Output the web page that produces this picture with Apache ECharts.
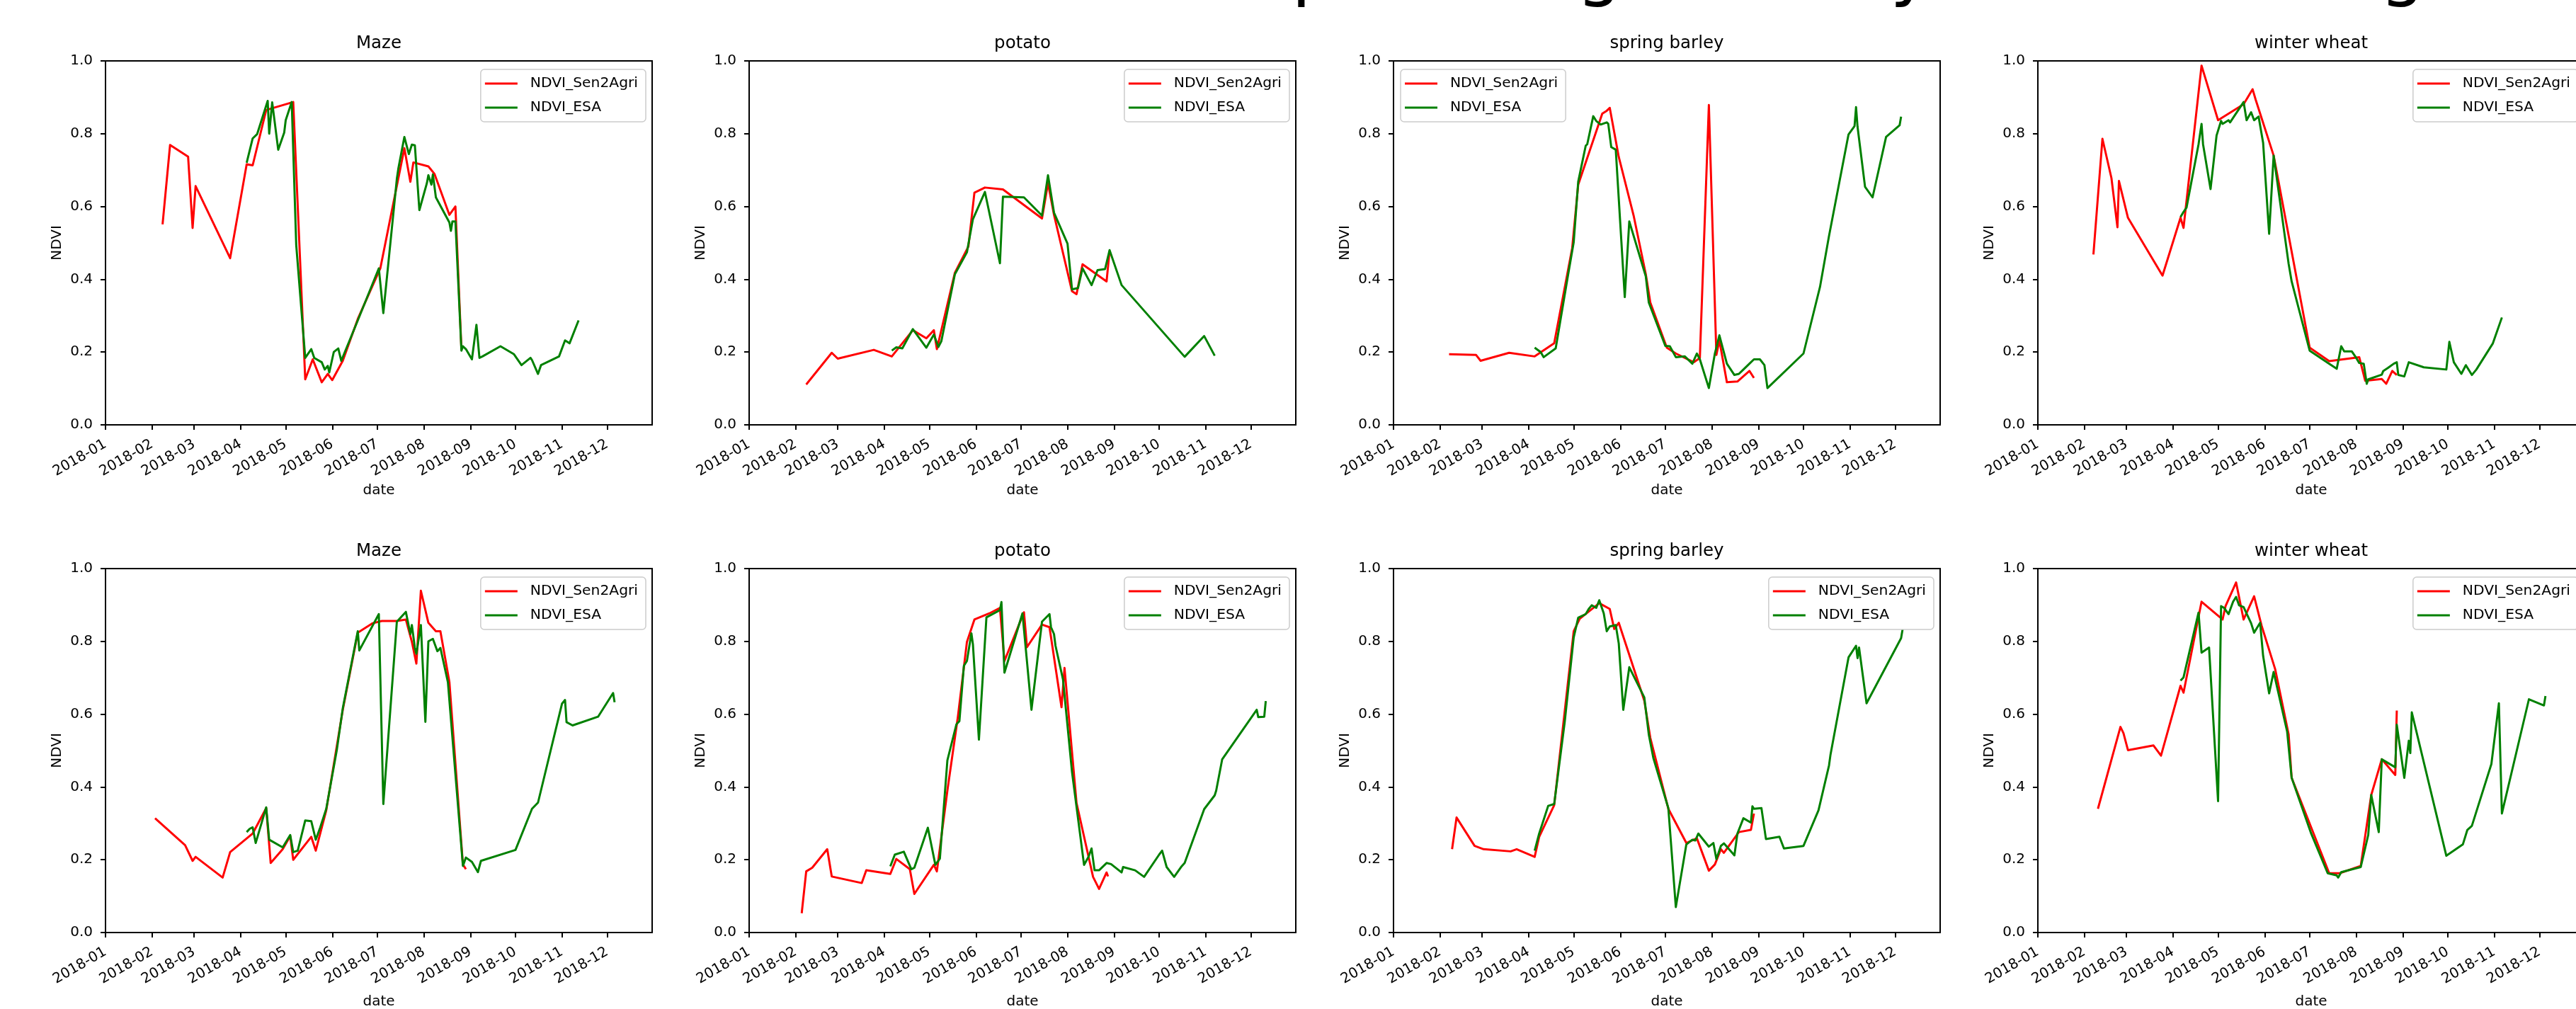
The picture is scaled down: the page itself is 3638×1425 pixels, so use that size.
<!DOCTYPE html>
<html><head><meta charset="utf-8">
<script src="https://cdn.jsdelivr.net/npm/echarts@6/dist/echarts.min.js"></script>
<style>html,body{margin:0;padding:0;background:#fff}#c{width:3638px;height:1425px}</style>
</head><body><div id="c"></div>
<script>
// ---------------- data ----------------
const cropTitles = ['Maze', 'potato', 'spring barley', 'winter wheat', 'Maze', 'potato', 'spring barley', 'winter wheat'];
const seriesNames = ['NDVI_Sen2Agri', 'NDVI_ESA'];
const suptitleText = 'NDVI comparison growth by class and region';

const maizeA_sen = [['2018-02-08',0.551],['2018-02-13',0.769],['2018-02-25',0.737],['2018-02-28',0.541],['2018-03-02',0.656],['2018-03-25',0.458],['2018-04-05',0.716],['2018-04-09',0.713],['2018-04-18',0.865],['2018-05-06',0.887],['2018-05-14',0.125],['2018-05-19',0.180],['2018-05-25',0.117],['2018-05-29',0.140],['2018-06-01',0.123],['2018-06-08',0.176],['2018-06-18',0.291],['2018-07-03',0.430],['2018-07-19',0.760],['2018-07-23',0.668],['2018-07-25',0.721],['2018-08-04',0.710],['2018-08-08',0.690],['2018-08-18',0.577],['2018-08-22',0.600],['2018-08-26',0.208]];
const maizeA_esa = [['2018-04-05',0.720],['2018-04-09',0.787],['2018-04-12',0.799],['2018-04-19',0.890],['2018-04-20',0.800],['2018-04-22',0.886],['2018-04-26',0.756],['2018-04-30',0.803],['2018-05-01',0.837],['2018-05-05',0.887],['2018-05-08',0.494],['2018-05-14',0.184],['2018-05-18',0.208],['2018-05-20',0.184],['2018-05-25',0.172],['2018-05-27',0.152],['2018-05-29',0.162],['2018-05-30',0.144],['2018-06-02',0.200],['2018-06-05',0.210],['2018-06-07',0.176],['2018-06-18',0.287],['2018-07-02',0.430],['2018-07-05',0.307],['2018-07-14',0.676],['2018-07-15',0.704],['2018-07-19',0.791],['2018-07-22',0.744],['2018-07-24',0.770],['2018-07-26',0.768],['2018-07-29',0.590],['2018-08-03',0.664],['2018-08-04',0.686],['2018-08-06',0.660],['2018-08-07',0.688],['2018-08-09',0.625],['2018-08-18',0.556],['2018-08-19',0.533],['2018-08-20',0.559],['2018-08-22',0.559],['2018-08-26',0.204],['2018-08-27',0.216],['2018-08-29',0.208],['2018-09-02',0.180],['2018-09-05',0.275],['2018-09-07',0.184],['2018-09-09',0.188],['2018-09-21',0.216],['2018-09-30',0.194],['2018-10-05',0.164],['2018-10-11',0.184],['2018-10-12',0.178],['2018-10-16',0.140],['2018-10-18',0.164],['2018-10-30',0.188],['2018-11-03',0.232],['2018-11-06',0.224],['2018-11-12',0.287]];

const potatoA_sen = [['2018-02-08',0.111],['2018-02-25',0.198],['2018-03-01',0.182],['2018-03-25',0.206],['2018-04-06',0.188],['2018-04-20',0.260],['2018-04-29',0.238],['2018-05-04',0.260],['2018-05-06',0.208],['2018-05-18',0.418],['2018-05-27',0.490],['2018-05-31',0.638],['2018-06-07',0.652],['2018-06-19',0.647],['2018-07-15',0.567],['2018-07-19',0.664],['2018-07-23',0.577],['2018-08-04',0.367],['2018-08-07',0.359],['2018-08-11',0.441],['2018-08-27',0.394],['2018-08-29',0.478]];
const potatoA_esa = [['2018-04-06',0.204],['2018-04-09',0.213],['2018-04-13',0.210],['2018-04-20',0.263],['2018-04-29',0.212],['2018-05-04',0.248],['2018-05-07',0.214],['2018-05-09',0.230],['2018-05-18',0.414],['2018-05-26',0.474],['2018-05-30',0.565],['2018-06-07',0.640],['2018-06-17',0.444],['2018-06-19',0.627],['2018-07-03',0.625],['2018-07-15',0.575],['2018-07-19',0.686],['2018-07-23',0.583],['2018-08-01',0.498],['2018-08-04',0.372],['2018-08-08',0.376],['2018-08-11',0.430],['2018-08-17',0.384],['2018-08-21',0.425],['2018-08-26',0.428],['2018-08-29',0.480],['2018-09-06',0.384],['2018-10-18',0.187],['2018-10-31',0.244],['2018-11-07',0.190]];

const barleyA_sen = [['2018-02-07',0.194],['2018-02-25',0.192],['2018-02-28',0.176],['2018-03-19',0.198],['2018-04-05',0.188],['2018-04-18',0.224],['2018-04-30',0.486],['2018-05-04',0.660],['2018-05-20',0.855],['2018-05-23',0.863],['2018-05-25',0.871],['2018-05-31',0.736],['2018-06-10',0.573],['2018-06-18',0.414],['2018-06-21',0.336],['2018-07-02',0.212],['2018-07-08',0.196],['2018-07-20',0.172],['2018-07-24',0.184],['2018-07-30',0.879],['2018-08-04',0.192],['2018-08-06',0.232],['2018-08-11',0.117],['2018-08-18',0.119],['2018-08-26',0.148],['2018-08-29',0.129]];
const barleyA_esa = [['2018-04-05',0.212],['2018-04-09',0.200],['2018-04-11',0.186],['2018-04-19',0.210],['2018-04-27',0.406],['2018-05-01',0.502],['2018-05-04',0.668],['2018-05-06',0.708],['2018-05-09',0.767],['2018-05-10',0.771],['2018-05-14',0.848],['2018-05-16',0.835],['2018-05-19',0.825],['2018-05-23',0.831],['2018-05-24',0.827],['2018-05-26',0.763],['2018-05-29',0.756],['2018-06-04',0.351],['2018-06-07',0.559],['2018-06-18',0.408],['2018-06-20',0.336],['2018-07-01',0.217],['2018-07-04',0.216],['2018-07-08',0.186],['2018-07-14',0.188],['2018-07-19',0.168],['2018-07-22',0.196],['2018-07-24',0.180],['2018-07-30',0.101],['2018-08-03',0.196],['2018-08-06',0.246],['2018-08-11',0.168],['2018-08-16',0.137],['2018-08-19',0.140],['2018-08-22',0.152],['2018-08-26',0.168],['2018-08-29',0.180],['2018-09-02',0.180],['2018-09-05',0.164],['2018-09-07',0.101],['2018-10-01',0.196],['2018-10-12',0.379],['2018-10-18',0.519],['2018-10-31',0.798],['2018-11-04',0.821],['2018-11-05',0.873],['2018-11-06',0.819],['2018-11-11',0.654],['2018-11-16',0.625],['2018-11-25',0.791],['2018-12-04',0.823],['2018-12-05',0.847]];

const wheatA_sen = [['2018-02-07',0.468],['2018-02-13',0.786],['2018-02-19',0.678],['2018-02-23',0.543],['2018-02-24',0.670],['2018-03-02',0.569],['2018-03-25',0.410],['2018-04-06',0.569],['2018-04-08',0.541],['2018-04-20',0.987],['2018-05-01',0.837],['2018-05-18',0.881],['2018-05-24',0.922],['2018-05-26',0.894],['2018-06-07',0.740],['2018-07-01',0.212],['2018-07-14',0.175],['2018-08-03',0.186],['2018-08-07',0.121],['2018-08-18',0.126],['2018-08-21',0.113],['2018-08-25',0.148],['2018-08-28',0.137]];
const wheatA_esa = [['2018-04-06',0.571],['2018-04-08',0.585],['2018-04-10',0.597],['2018-04-18',0.771],['2018-04-20',0.827],['2018-04-21',0.771],['2018-04-26',0.648],['2018-04-30',0.795],['2018-05-03',0.835],['2018-05-04',0.827],['2018-05-08',0.837],['2018-05-09',0.831],['2018-05-18',0.887],['2018-05-20',0.837],['2018-05-23',0.859],['2018-05-25',0.837],['2018-05-28',0.847],['2018-05-31',0.775],['2018-06-04',0.525],['2018-06-07',0.740],['2018-06-17',0.442],['2018-06-19',0.394],['2018-07-01',0.204],['2018-07-14',0.168],['2018-07-19',0.154],['2018-07-22',0.216],['2018-07-24',0.202],['2018-07-29',0.202],['2018-08-01',0.184],['2018-08-03',0.170],['2018-08-06',0.168],['2018-08-08',0.113],['2018-08-09',0.125],['2018-08-18',0.138],['2018-08-19',0.148],['2018-08-22',0.156],['2018-08-26',0.168],['2018-08-28',0.172],['2018-08-29',0.137],['2018-09-02',0.133],['2018-09-05',0.172],['2018-09-15',0.158],['2018-09-30',0.152],['2018-10-02',0.228],['2018-10-05',0.172],['2018-10-10',0.140],['2018-10-13',0.164],['2018-10-17',0.137],['2018-10-20',0.152],['2018-10-31',0.224],['2018-11-06',0.295]];

const maizeB_sen = [['2018-02-03',0.314],['2018-02-23',0.240],['2018-02-28',0.197],['2018-03-02',0.208],['2018-03-20',0.151],['2018-03-25',0.221],['2018-04-09',0.272],['2018-04-18',0.342],['2018-04-21',0.191],['2018-04-29',0.229],['2018-05-04',0.265],['2018-05-06',0.200],['2018-05-18',0.263],['2018-05-21',0.225],['2018-05-28',0.336],['2018-06-08',0.612],['2018-06-18',0.824],['2018-06-28',0.850],['2018-07-04',0.856],['2018-07-14',0.856],['2018-07-20',0.860],['2018-07-24',0.799],['2018-07-27',0.739],['2018-07-30',0.939],['2018-08-04',0.851],['2018-08-09',0.828],['2018-08-12',0.828],['2018-08-18',0.688],['2018-08-27',0.187],['2018-08-29',0.174]];
const maizeB_esa = [['2018-04-05',0.276],['2018-04-07',0.285],['2018-04-09',0.289],['2018-04-11',0.246],['2018-04-18',0.344],['2018-04-20',0.255],['2018-04-29',0.234],['2018-05-04',0.268],['2018-05-06',0.221],['2018-05-09',0.225],['2018-05-14',0.308],['2018-05-18',0.306],['2018-05-21',0.255],['2018-05-24',0.289],['2018-05-28',0.340],['2018-06-04',0.501],['2018-06-08',0.616],['2018-06-18',0.828],['2018-06-19',0.775],['2018-07-02',0.875],['2018-07-05',0.353],['2018-07-14',0.854],['2018-07-20',0.881],['2018-07-23',0.820],['2018-07-24',0.845],['2018-07-26',0.782],['2018-07-27',0.766],['2018-07-30',0.845],['2018-08-02',0.579],['2018-08-04',0.800],['2018-08-07',0.807],['2018-08-10',0.773],['2018-08-12',0.782],['2018-08-17',0.688],['2018-08-27',0.183],['2018-08-29',0.206],['2018-09-02',0.194],['2018-09-06',0.166],['2018-09-08',0.197],['2018-10-01',0.227],['2018-10-12',0.340],['2018-10-16',0.357],['2018-11-01',0.629],['2018-11-03',0.639],['2018-11-04',0.578],['2018-11-08',0.569],['2018-11-25',0.593],['2018-12-05',0.658],['2018-12-06',0.633]];

const potatoB_sen = [['2018-02-05',0.053],['2018-02-08',0.168],['2018-02-12',0.178],['2018-02-22',0.229],['2018-02-25',0.154],['2018-03-17',0.136],['2018-03-20',0.171],['2018-04-05',0.161],['2018-04-09',0.202],['2018-04-18',0.174],['2018-04-21',0.106],['2018-05-04',0.186],['2018-05-06',0.168],['2018-05-13',0.390],['2018-05-20',0.593],['2018-05-26',0.798],['2018-05-31',0.860],['2018-06-10',0.877],['2018-06-17',0.892],['2018-06-20',0.746],['2018-07-03',0.880],['2018-07-05',0.784],['2018-07-15',0.846],['2018-07-20',0.839],['2018-07-28',0.619],['2018-07-30',0.727],['2018-08-07',0.356],['2018-08-18',0.153],['2018-08-22',0.120],['2018-08-27',0.165],['2018-08-28',0.154]];
const potatoB_esa = [['2018-04-05',0.182],['2018-04-08',0.214],['2018-04-14',0.222],['2018-04-19',0.174],['2018-04-21',0.178],['2018-04-30',0.288],['2018-05-05',0.186],['2018-05-08',0.203],['2018-05-13',0.473],['2018-05-19',0.572],['2018-05-21',0.581],['2018-05-24',0.733],['2018-05-26',0.746],['2018-05-29',0.822],['2018-05-30',0.792],['2018-06-03',0.530],['2018-06-08',0.866],['2018-06-17',0.886],['2018-06-18',0.908],['2018-06-20',0.714],['2018-07-02',0.877],['2018-07-08',0.612],['2018-07-15',0.854],['2018-07-20',0.875],['2018-07-21',0.839],['2018-07-23',0.820],['2018-07-24',0.788],['2018-07-29',0.695],['2018-08-04',0.441],['2018-08-12',0.186],['2018-08-15',0.208],['2018-08-17',0.231],['2018-08-19',0.171],['2018-08-22',0.171],['2018-08-27',0.191],['2018-08-30',0.188],['2018-09-06',0.165],['2018-09-07',0.180],['2018-09-15',0.171],['2018-09-21',0.153],['2018-10-01',0.214],['2018-10-03',0.225],['2018-10-06',0.180],['2018-10-11',0.153],['2018-10-16',0.182],['2018-10-18',0.191],['2018-10-31',0.339],['2018-11-07',0.377],['2018-11-08',0.390],['2018-11-12',0.476],['2018-12-05',0.612],['2018-12-06',0.592],['2018-12-10',0.593],['2018-12-11',0.636]];

const barleyB_sen = [['2018-02-09',0.229],['2018-02-12',0.316],['2018-02-24',0.238],['2018-03-02',0.229],['2018-03-20',0.223],['2018-03-24',0.229],['2018-04-05',0.208],['2018-04-08',0.263],['2018-04-18',0.350],['2018-05-01',0.828],['2018-05-05',0.862],['2018-05-18',0.905],['2018-05-25',0.889],['2018-05-28',0.834],['2018-05-31',0.851],['2018-06-17',0.637],['2018-06-21',0.535],['2018-07-03',0.340],['2018-07-15',0.246],['2018-07-22',0.259],['2018-07-30',0.170],['2018-08-03',0.187],['2018-08-07',0.229],['2018-08-09',0.219],['2018-08-19',0.276],['2018-08-27',0.282],['2018-08-29',0.327]];
const barleyB_esa = [['2018-04-05',0.225],['2018-04-08',0.272],['2018-04-14',0.348],['2018-04-18',0.353],['2018-04-25',0.578],['2018-05-01',0.811],['2018-05-04',0.865],['2018-05-07',0.871],['2018-05-09',0.875],['2018-05-11',0.889],['2018-05-13',0.899],['2018-05-16',0.892],['2018-05-18',0.913],['2018-05-21',0.877],['2018-05-23',0.828],['2018-05-25',0.841],['2018-05-29',0.845],['2018-05-31',0.794],['2018-06-03',0.612],['2018-06-07',0.729],['2018-06-17',0.646],['2018-06-20',0.544],['2018-06-23',0.480],['2018-07-03',0.342],['2018-07-08',0.070],['2018-07-15',0.242],['2018-07-19',0.255],['2018-07-21',0.253],['2018-07-23',0.272],['2018-07-30',0.236],['2018-08-02',0.246],['2018-08-04',0.202],['2018-08-07',0.238],['2018-08-09',0.245],['2018-08-16',0.212],['2018-08-18',0.272],['2018-08-22',0.314],['2018-08-27',0.302],['2018-08-28',0.347],['2018-08-29',0.340],['2018-09-03',0.342],['2018-09-06',0.257],['2018-09-15',0.263],['2018-09-18',0.231],['2018-10-01',0.238],['2018-10-11',0.336],['2018-10-18',0.459],['2018-10-19',0.489],['2018-10-31',0.756],['2018-11-05',0.788],['2018-11-06',0.754],['2018-11-07',0.783],['2018-11-12',0.630],['2018-12-05',0.809],['2018-12-06',0.833]];

const wheatB_sen = [['2018-02-10',0.340],['2018-02-25',0.565],['2018-02-27',0.548],['2018-03-02',0.501],['2018-03-19',0.514],['2018-03-24',0.486],['2018-04-06',0.678],['2018-04-08',0.659],['2018-04-20',0.909],['2018-05-04',0.860],['2018-05-06',0.897],['2018-05-13',0.962],['2018-05-18',0.860],['2018-05-25',0.924],['2018-05-30',0.843],['2018-06-08',0.724],['2018-06-17',0.544],['2018-06-19',0.425],['2018-07-14',0.163],['2018-07-21',0.163],['2018-08-04',0.183],['2018-08-11',0.378],['2018-08-18',0.476],['2018-08-27',0.433],['2018-08-28',0.610]];
const wheatB_esa = [['2018-04-06',0.692],['2018-04-08',0.701],['2018-04-18',0.879],['2018-04-20',0.769],['2018-04-25',0.783],['2018-05-01',0.361],['2018-05-03',0.897],['2018-05-05',0.892],['2018-05-08',0.875],['2018-05-11',0.909],['2018-05-13',0.922],['2018-05-15',0.899],['2018-05-18',0.894],['2018-05-23',0.850],['2018-05-25',0.824],['2018-05-29',0.851],['2018-05-31',0.760],['2018-06-04',0.657],['2018-06-07',0.716],['2018-06-16',0.552],['2018-06-19',0.425],['2018-07-02',0.272],['2018-07-13',0.163],['2018-07-19',0.157],['2018-07-20',0.151],['2018-07-22',0.166],['2018-08-04',0.180],['2018-08-09',0.268],['2018-08-11',0.378],['2018-08-16',0.276],['2018-08-18',0.476],['2018-08-27',0.454],['2018-08-28',0.571],['2018-09-02',0.425],['2018-09-05',0.527],['2018-09-06',0.493],['2018-09-07',0.605],['2018-09-30',0.211],['2018-10-11',0.242],['2018-10-14',0.282],['2018-10-17',0.293],['2018-10-30',0.463],['2018-11-04',0.630],['2018-11-06',0.327],['2018-11-24',0.641],['2018-12-04',0.624],['2018-12-05',0.650]];

const senData = [maizeA_sen, potatoA_sen, barleyA_sen, wheatA_sen, maizeB_sen, potatoB_sen, barleyB_sen, wheatB_sen];
const esaData = [maizeA_esa, potatoA_esa, barleyA_esa, wheatA_esa, maizeB_esa, potatoB_esa, barleyB_esa, wheatB_esa];
const legendSide = ['right', 'right', 'left', 'right', 'right', 'right', 'right', 'right'];

// ---------------- layout / style ----------------
const CW = 3638;
const FONT = 'DejaVu Sans';
const COL_LEFT = [149, 1058, 1968, 2878];
const ROW_TOP = [86, 803];
const NAME_GAP_X = [83, 88];
const PW = 772, PH = 514;
const DAY = 86400000;

const grid = [], xAxis = [], yAxis = [], series = [], legend = [], graphic = [];

cropTitles.forEach((t, i) => {
  const r = Math.floor(i / 4), c = i % 4;
  const left = COL_LEFT[c], top = ROW_TOP[r];
  grid.push({ left: left, top: top, width: PW, height: PH, show: true, borderColor: '#000', borderWidth: 2,
    backgroundColor: 'rgba(0,0,0,0)', containLabel: false, outerBoundsMode: 'none' });
  xAxis.push({
    type: 'time', gridIndex: i, min: '2018-01-01', max: '2018-12-31', splitNumber: 12,
    minInterval: 28 * DAY, maxInterval: 31 * DAY,
    axisLine: { show: true, lineStyle: { color: '#000', width: 2 } },
    axisTick: { show: true, length: 7, lineStyle: { color: '#000', width: 2 } },
    axisLabel: { rotate: 30, formatter: '{yyyy}-{MM}', fontSize: 20, color: '#000', fontFamily: FONT, margin: 26, hideOverlap: false, showMinLabel: true, showMaxLabel: false },
    splitLine: { show: false },
    name: 'date', nameLocation: 'middle', nameGap: NAME_GAP_X[r],
    nameTextStyle: { fontSize: 20, color: '#000', fontFamily: FONT }
  });
  yAxis.push({
    type: 'value', gridIndex: i, min: 0, max: 1, interval: 0.2,
    axisLine: { show: true, lineStyle: { color: '#000', width: 2 } },
    axisTick: { show: true, length: 7, lineStyle: { color: '#000', width: 2 } },
    axisLabel: { formatter: v => v.toFixed(1), fontSize: 20, color: '#000', fontFamily: FONT, margin: 18 },
    splitLine: { show: false },
    name: 'NDVI', nameLocation: 'middle', nameGap: 58,
    nameTextStyle: { fontSize: 20, color: '#000', fontFamily: FONT }
  });
  series.push({ type: 'line', name: seriesNames[0], xAxisIndex: i, yAxisIndex: i, data: senData[i],
    showSymbol: false, symbol: 'none', color: '#ff0000', lineStyle: { color: '#ff0000', width: 3, join: 'round' }, z: 2, silent: true });
  series.push({ type: 'line', name: seriesNames[1], xAxisIndex: i, yAxisIndex: i, data: esaData[i],
    showSymbol: false, symbol: 'none', color: '#008000', lineStyle: { color: '#008000', width: 3, join: 'round' }, z: 3, silent: true });
  const lg = {
    orient: 'vertical', top: top + 12, data: seriesNames, icon: 'rect', itemWidth: 46, itemHeight: 3, itemGap: 14,
    formatter: '  {name}',
    padding: [10, 11, 10, 6], backgroundColor: 'rgba(255,255,255,0.85)', borderColor: '#cccccc', borderWidth: 1.5, borderRadius: 5,
    textStyle: { fontSize: 20.3, color: '#000', fontFamily: FONT }, selectedMode: false
  };
  if (legendSide[i] === 'left') lg.left = left + 10; else lg.right = CW - (left + PW - 9);
  legend.push(lg);
  graphic.push({ type: 'text', x: left + PW / 2, y: top - 12, silent: true,
    style: { text: t, fontSize: 24.5, fill: '#000', fontFamily: FONT, align: 'center', verticalAlign: 'bottom' } });
});

graphic.push({ type: 'text', x: 1331, y: -37, silent: true,
  style: { text: suptitleText, fontSize: 100, fill: '#000', fontFamily: FONT, align: 'left', verticalAlign: 'middle' } });

const chart = echarts.init(document.getElementById('c'), null, { renderer: 'canvas' });
chart.setOption({
  animation: false,
  backgroundColor: '#ffffff',
  textStyle: { fontFamily: FONT },
  grid: grid, xAxis: xAxis, yAxis: yAxis, series: series, legend: legend, graphic: graphic
});
</script></body></html>
